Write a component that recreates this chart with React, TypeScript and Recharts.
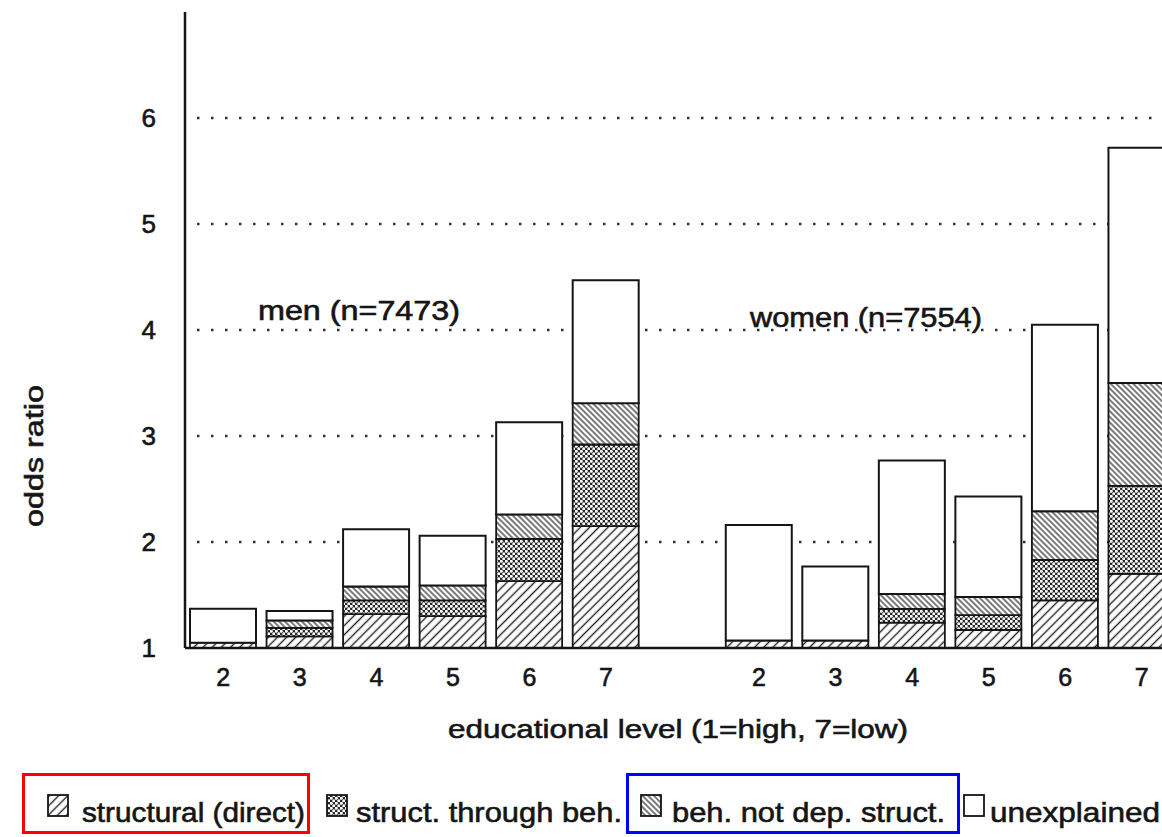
import { Bar, BarChart, CartesianGrid, XAxis, YAxis } from 'recharts'

// educational levels shown per group (1 is the reference level)
const levels = ['2', '3', '4', '5', '6', '7']

// odds ratio at the top of each stacked component, read bottom to top
const menStructural = [1.05, 1.11, 1.32, 1.3, 1.63, 2.15]
const menThroughBeh = [1.05, 1.19, 1.45, 1.45, 2.03, 2.92]
const menBehaviour = [1.05, 1.26, 1.58, 1.59, 2.26, 3.31]
const menTotal = [1.37, 1.35, 2.12, 2.06, 3.13, 4.47]

const womenStructural = [1.07, 1.07, 1.24, 1.17, 1.45, 1.7]
const womenThroughBeh = [1.07, 1.07, 1.37, 1.31, 1.83, 2.53]
const womenBehaviour = [1.07, 1.07, 1.51, 1.48, 2.29, 3.5]
const womenTotal = [2.16, 1.77, 2.77, 2.43, 4.05, 5.72]

const yTicks = [1, 2, 3, 4, 5, 6]
const yMax = 7

const legendItems = [
  { key: 'struct', label: 'structural (direct)' },
  { key: 'mesh', label: 'struct. through beh.' },
  { key: 'beh', label: 'beh. not dep. struct.' },
  { key: 'none', label: 'unexplained' },
]

const FONT = "'Liberation Sans', Arial, Helvetica, sans-serif"
const INK = '#151515'

// scanned print looks heavy, so text gets a hairline outline
const inkText = { fill: INK, stroke: INK, strokeWidth: 0.6, fontFamily: FONT }

// the chart baseline sits at odds ratio 1, so bars are stacked on the excess
const groupRows = (
  group: string,
  s: number[],
  c: number[],
  b: number[],
  t: number[],
) =>
  levels.map((lvl, i) => ({
    id: `${group}-${lvl}`,
    structural: s[i] - 1,
    throughBeh: c[i] - s[i],
    behaviour: b[i] - c[i],
    unexplained: t[i] - b[i],
  }))

const rows = [
  ...groupRows('men', menStructural, menThroughBeh, menBehaviour, menTotal),
  { id: 'gap' },
  ...groupRows('women', womenStructural, womenThroughBeh, womenBehaviour, womenTotal),
]

function Hatches({ prefix }: { prefix: string }) {
  return (
    <defs>
      <pattern
        id={`${prefix}-struct`}
        width={6.5}
        height={6.5}
        patternUnits="userSpaceOnUse"
        patternTransform="rotate(45)"
      >
        <rect width={6.5} height={6.5} fill="#fff" />
        <line x1={3.25} y1={0} x2={3.25} y2={6.5} stroke="#222" strokeWidth={1.4} />
      </pattern>
      <pattern id={`${prefix}-mesh`} width={5} height={5} patternUnits="userSpaceOnUse">
        <rect width={5} height={5} fill="#2a2a2a" />
        <circle cx={1.25} cy={1.25} r={1.5} fill="#fff" />
        <circle cx={3.75} cy={3.75} r={1.5} fill="#fff" />
      </pattern>
      <pattern
        id={`${prefix}-beh`}
        width={4}
        height={4}
        patternUnits="userSpaceOnUse"
        patternTransform="rotate(-45)"
      >
        <rect width={4} height={4} fill="#fff" />
        <line x1={2} y1={0} x2={2} y2={4} stroke="#222" strokeWidth={1.2} />
      </pattern>
    </defs>
  )
}

function BottomLegend() {
  const iconX = [48, 327, 641, 964]
  const textX = [82, 356, 672, 990]
  const textW = [223, 266, 273, 170]
  return (
    <svg width={1162} height={70} style={{ position: 'absolute', left: 0, top: 767 }}>
      <Hatches prefix="lg" />
      {legendItems.map((item, i) => (
        <g key={item.key}>
          <rect
            x={iconX[i]}
            y={28}
            width={20}
            height={21}
            fill={item.key === 'none' ? '#fff' : `url(#lg-${item.key})`}
            stroke={INK}
            strokeWidth={1.8}
          />
          <text
            x={textX[i]}
            y={55}
            fontSize={28}
            {...inkText}
            textLength={textW[i]}
            lengthAdjust="spacingAndGlyphs"
          >
            {item.label}
          </text>
        </g>
      ))}
      <rect x={23.5} y={7.5} width={285} height={58} fill="none" stroke="#ff0000" strokeWidth={3} />
      <rect x={627.5} y={7.5} width={331} height={58} fill="none" stroke="#0000ff" strokeWidth={3} />
    </svg>
  )
}

export default function App() {
  return (
    <div
      style={{
        position: 'absolute',
        left: 0,
        top: 0,
        width: 1162,
        height: 837,
        overflow: 'hidden',
        background: '#fff',
      }}
    >
      <BarChart
        width={1200}
        height={837}
        data={rows}
        margin={{ top: 12, right: 20, left: 0, bottom: 0 }}
        barSize={66}
      >
        <Hatches prefix="ch" />
        <CartesianGrid
          vertical={false}
          horizontalValues={yTicks.slice(1).map((t) => t - 1)}
          stroke="#333"
          strokeWidth={2.5}
          strokeDasharray="2.5 11.5"
          strokeDashoffset={-12}
        />
        <XAxis
          dataKey="id"
          height={189}
          interval={0}
          tickLine={false}
          tickSize={0}
          tickMargin={20}
          axisLine={{ stroke: INK, strokeWidth: 2.5 }}
          tickFormatter={(v: string) => v.split('-')[1] ?? ''}
          tick={{ fontSize: 25, ...inkText }}
        />
        <YAxis
          width={185}
          type="number"
          domain={[0, yMax - 1]}
          ticks={yTicks.map((t) => t - 1)}
          tickFormatter={(v: number) => String(v + 1)}
          tickLine={false}
          tickSize={0}
          tickMargin={29}
          axisLine={{ stroke: INK, strokeWidth: 2.5 }}
          tick={{ fontSize: 26, ...inkText }}
        />
        <Bar dataKey="structural" stackId="or" fill="url(#ch-struct)" stroke={INK} strokeWidth={1.8} isAnimationActive={false} />
        <Bar dataKey="throughBeh" stackId="or" fill="url(#ch-mesh)" stroke={INK} strokeWidth={1.8} isAnimationActive={false} />
        <Bar dataKey="behaviour" stackId="or" fill="url(#ch-beh)" stroke={INK} strokeWidth={1.8} isAnimationActive={false} />
        <Bar dataKey="unexplained" stackId="or" fill="#fff" stroke={INK} strokeWidth={2} isAnimationActive={false} />
        <text x={258} y={320} fontSize={27} {...inkText} textLength={202} lengthAdjust="spacingAndGlyphs">
          men (n=7473)
        </text>
        <text x={750} y={327} fontSize={27} {...inkText} textLength={232} lengthAdjust="spacingAndGlyphs">
          women (n=7554)
        </text>
        <text x={448} y={738} fontSize={26} {...inkText} textLength={460} lengthAdjust="spacingAndGlyphs">
          educational level (1=high, 7=low)
        </text>
        <text
          x={43}
          y={456}
          fontSize={26}
          {...inkText}
          textAnchor="middle"
          textLength={142}
          lengthAdjust="spacingAndGlyphs"
          transform="rotate(-90 43 456)"
        >
          odds ratio
        </text>
      </BarChart>
      <BottomLegend />
    </div>
  )
}
